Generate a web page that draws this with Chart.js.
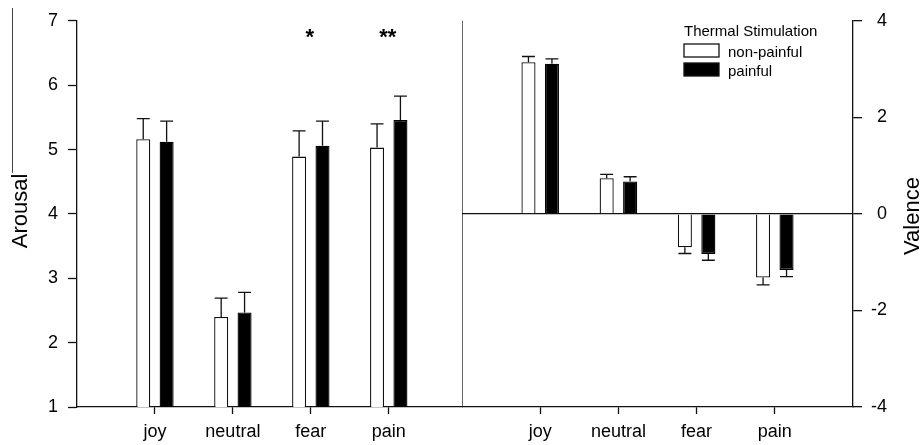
<!DOCTYPE html>
<html>
<head>
<meta charset="utf-8">
<script src="https://cdn.jsdelivr.net/npm/chart.js@4.4.1/dist/chart.umd.min.js"></script>
<style>
  html, body { margin: 0; padding: 0; background: #fff; }
  #wrap { position: relative; width: 922px; height: 445px; overflow: hidden; background: #fff; }
  canvas { position: absolute; top: 0; }
  #arousal { left: 0; }
  #valence { left: 462px; }
</style>
</head>
<body>
<div id="wrap">
  <canvas id="arousal" width="470" height="445"></canvas>
  <canvas id="valence" width="460" height="445"></canvas>
</div>
<script>
// Emotion categories and the two thermal stimulation conditions
const categories = ['joy', 'neutral', 'fear', 'pain'];
const seriesNames = ['non-painful', 'painful'];
const legendTitle = 'Thermal Stimulation';

// Mean arousal ratings and standard errors
const arousalNonPainful   = [5.16, 2.40, 4.89, 5.03];
const arousalNonPainfulSE = [0.32, 0.29, 0.40, 0.37];
const arousalPainful      = [5.12, 2.47, 5.06, 5.46];
const arousalPainfulSE    = [0.32, 0.31, 0.38, 0.37];
const arousalSig          = ['', '', '*', '**'];

// Mean valence ratings and standard errors
const valenceNonPainful   = [3.14, 0.74, -0.69, -1.32];
const valenceNonPainfulSE = [0.12, 0.08, 0.13, 0.15];
const valencePainful      = [3.11, 0.67, -0.83, -1.16];
const valencePainfulSE    = [0.10, 0.10, 0.13, 0.14];

// Axis tick values
const arousalTicks = [1, 2, 3, 4, 5, 6, 7];
const valenceTicks = [-4, -2, 0, 2, 4];

const FONT = '"Liberation Sans", Arial, Helvetica, sans-serif';
const INK = '#111';
Chart.defaults.font.family = FONT;
Chart.defaults.color = '#000';

function toPoints(vals) {
  return vals.map((v, i) => ({ x: i + 1, y: v }));
}

function barSets(a, aSE, b, bSE) {
  return [
    { label: seriesNames[0], data: toPoints(a), errors: aSE,
      backgroundColor: '#fff', borderColor: INK, borderWidth: 1.3 },
    { label: seriesNames[1], data: toPoints(b), errors: bSE,
      backgroundColor: '#000', borderColor: '#000', borderWidth: 1.3 }
  ];
}

// One-sided error bars pointing away from the baseline
const errorBars = {
  id: 'errorBars',
  afterDatasetsDraw(chart) {
    const { ctx } = chart;
    const ys = chart.scales.y;
    ctx.save();
    ctx.strokeStyle = INK;
    ctx.lineWidth = 1.3;
    chart.data.datasets.forEach((ds, di) => {
      const meta = chart.getDatasetMeta(di);
      meta.data.forEach((bar, i) => {
        const v = ds.data[i].y;
        const e = ds.errors[i];
        const end = v >= 0 ? v + e : v - e;
        const yEnd = ys.getPixelForValue(end);
        const half = bar.width * 0.46;
        ctx.beginPath();
        ctx.moveTo(bar.x, bar.y);
        ctx.lineTo(bar.x, yEnd);
        ctx.moveTo(bar.x - half, yEnd);
        ctx.lineTo(bar.x + half, yEnd);
        ctx.stroke();
      });
    });
    ctx.restore();
  }
};

// Significance asterisks above categories
const sigMarks = {
  id: 'sigMarks',
  afterDatasetsDraw(chart, args, opts) {
    if (!opts.marks) return;
    const { ctx } = chart;
    const size = opts.size;
    ctx.save();
    ctx.font = 'bold ' + size + 'px ' + FONT;
    ctx.fillStyle = '#000';
    ctx.textAlign = 'center';
    ctx.textBaseline = 'alphabetic';
    opts.marks.forEach((m, i) => {
      if (!m) return;
      const x = chart.scales.x.getPixelForValue(i + 1) + (opts.dx || 0);
      const y = chart.scales.y.getPixelForValue(opts.level) + 0.575 * size;
      ctx.fillText(m, x, y);
    });
    ctx.restore();
  }
};

// Rotated axis titles (reading bottom to top)
const sideTitle = {
  id: 'sideTitle',
  afterDraw(chart, args, opts) {
    if (!opts.text) return;
    const { ctx } = chart;
    ctx.save();
    ctx.font = opts.size + 'px ' + FONT;
    ctx.fillStyle = '#000';
    ctx.translate(opts.x, opts.y);
    ctx.rotate(-Math.PI / 2);
    ctx.textAlign = 'center';
    ctx.textBaseline = 'middle';
    ctx.fillText(opts.text, 0, 0);
    ctx.restore();
    if (opts.overline) {
      ctx.save();
      ctx.strokeStyle = '#444';
      ctx.lineWidth = 1;
      ctx.beginPath();
      ctx.moveTo(opts.overline.x, opts.overline.y0);
      ctx.lineTo(opts.overline.x, opts.overline.y1);
      ctx.stroke();
      ctx.restore();
    }
  }
};

// Left edge of the plot frame
const leftEdge = {
  id: 'leftEdge',
  afterDraw(chart, args, opts) {
    if (!opts.show) return;
    const { ctx, chartArea } = chart;
    ctx.save();
    ctx.strokeStyle = INK;
    ctx.lineWidth = 1.3;
    ctx.beginPath();
    ctx.moveTo(chartArea.left, chartArea.top);
    ctx.lineTo(chartArea.left, chartArea.bottom);
    ctx.stroke();
    ctx.restore();
  }
};

// Legend box with title drawn inside the plot
const boxLegend = {
  id: 'boxLegend',
  afterDraw(chart, args, opts) {
    if (!opts.show) return;
    const { ctx } = chart;
    ctx.save();
    ctx.font = opts.size + 'px ' + FONT;
    ctx.fillStyle = '#000';
    ctx.textAlign = 'left';
    ctx.textBaseline = 'alphabetic';
    ctx.fillText(opts.title, opts.x, opts.titleBaseline);
    chart.data.datasets.forEach((ds, i) => {
      const top = opts.boxTop + i * opts.rowStep;
      ctx.fillStyle = ds.backgroundColor;
      ctx.fillRect(opts.x, top, opts.boxW, opts.boxH);
      ctx.strokeStyle = INK;
      ctx.lineWidth = 1.3;
      ctx.strokeRect(opts.x, top, opts.boxW, opts.boxH);
      ctx.fillStyle = '#000';
      ctx.fillText(ds.label, opts.labelX, top + opts.boxH - 0.5);
    });
    ctx.restore();
  }
};

function categoryAxis(max) {
  return {
    type: 'linear', min: 0, max: max, offset: false,
    afterBuildTicks: s => { s.ticks = categories.map((c, i) => ({ value: i + 1 })); },
    afterFit: s => { s.height = 38; },
    ticks: { callback: v => categories[v - 1], font: { size: 18 }, color: '#000',
             padding: 7, maxRotation: 0, autoSkip: false },
    grid: { display: true, drawOnChartArea: false, offset: false, tickLength: 7,
            tickColor: INK, tickWidth: 1.3 },
    border: { display: true, color: INK, width: 1.3 }
  };
}

new Chart(document.getElementById('arousal'), {
  type: 'bar',
  data: { datasets: barSets(arousalNonPainful, arousalNonPainfulSE, arousalPainful, arousalPainfulSE) },
  options: {
    responsive: false,
    animation: false,
    layout: { padding: { top: 16, right: 8, left: 0, bottom: 0 } },
    categoryPercentage: 0.6,
    barPercentage: 0.6,
    plugins: {
      legend: { display: false },
      tooltip: { enabled: false },
      sigMarks: { marks: arousalSig, level: 6.83, size: 22, dx: -1 },
      sideTitle: { text: 'Arousal', size: 22, x: 20.5, y: 211,
                   overline: { x: 12.5, y0: 8, y1: 173 } },
      leftEdge: { show: false },
      boxLegend: { show: false }
    },
    scales: {
      x: categoryAxis(4.94),
      y: {
        type: 'linear', position: 'left', min: 1, max: 7,
        afterBuildTicks: s => { s.ticks = arousalTicks.map(v => ({ value: v })); },
        afterFit: s => { s.width = 77; },
        ticks: { font: { size: 18 }, color: '#000', padding: 10 },
        grid: { drawOnChartArea: false, tickLength: 9, tickColor: INK, tickWidth: 1.3 },
        border: { display: true, color: INK, width: 1.3 }
      }
    }
  },
  plugins: [errorBars, sigMarks, sideTitle, leftEdge, boxLegend]
});

new Chart(document.getElementById('valence'), {
  type: 'bar',
  data: { datasets: barSets(valenceNonPainful, valenceNonPainfulSE, valencePainful, valencePainfulSE) },
  options: {
    responsive: false,
    animation: false,
    layout: { padding: { top: 16, right: 35, left: 0, bottom: 0 } },
    categoryPercentage: 0.6,
    barPercentage: 0.6,
    plugins: {
      legend: { display: false },
      tooltip: { enabled: false },
      sigMarks: { marks: null },
      sideTitle: { text: 'Valence', size: 22, x: 451, y: 216 },
      leftEdge: { show: true },
      boxLegend: { show: true, title: legendTitle, size: 15, x: 222, titleBaseline: 36,
                   boxTop: 44, rowStep: 19, boxW: 35, boxH: 13, labelX: 266 }
    },
    scales: {
      x: categoryAxis(5),
      y: {
        type: 'linear', position: 'right', min: -4, max: 4,
        afterBuildTicks: s => { s.ticks = valenceTicks.map(v => ({ value: v })); },
        afterFit: s => { s.width = 34; },
        ticks: { font: { size: 18 }, color: '#000', padding: 10, crossAlign: 'far' },
        grid: {
          drawOnChartArea: true, tickLength: 9, tickColor: INK, tickWidth: 1.3, lineWidth: 1.3,
          color: c => (c.tick && c.tick.value === 0) ? INK : 'rgba(0,0,0,0)'
        },
        border: { display: true, color: INK, width: 1.3 }
      }
    }
  },
  plugins: [errorBars, sigMarks, sideTitle, leftEdge, boxLegend]
});
</script>
</body>
</html>
